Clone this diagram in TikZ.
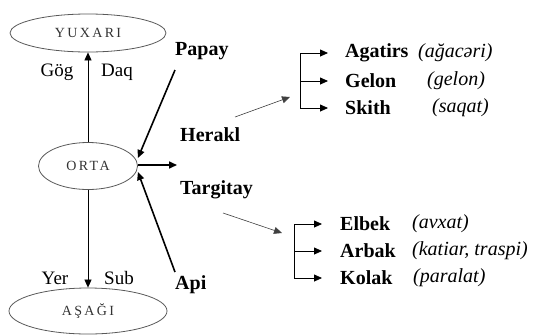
\documentclass[tikz,border=0pt]{standalone}
\usepackage{fontspec}
\setmainfont{Liberation Serif}
\usetikzlibrary{shapes.geometric,arrows.meta}

\begin{document}
\begin{tikzpicture}[x=1pt,y=-1pt,
        tip/.style={-{Triangle[length=8pt,width=7pt]}},
        oval/.style={draw=black!65,ellipse,inner sep=0pt,line width=0.8pt,text=black!80,
            font=\fontsize{14}{14}\selectfont\addfontfeatures{LetterSpace=17}},
        son/.style={font=\fontsize{20}{22}\selectfont\bfseries,inner sep=2pt,anchor=west},
        azname/.style={font=\fontsize{20}{22}\selectfont\itshape,inner sep=2pt,anchor=west},
        word/.style={font=\fontsize{19}{22}\selectfont,inner sep=1pt}]
        \useasboundingbox (0,0) rectangle (537,335);
        % the three levels
        \node [oval,minimum width=156pt,minimum height=38pt] (yuxari) at (88,33) {YUXARI};
        \node [oval,minimum width=99pt,minimum height=47pt] (orta) at (88,166) {ORTA};
        \node [oval,minimum width=158pt,minimum height=46pt] (asagi) at (88,311) {AŞAĞI};
        \node [word] (gog) at (57,72) {Gög};
        \node [word] (daq) at (117,72) {Daq};
        \node [word] (yer) at (55,278) {Yer};
        \node [word] (sub) at (119,278) {Sub};
        \draw [tip,line width=0.7pt] (orta) -- (yuxari);
        \draw [tip,line width=0.7pt] (orta) -- (asagi);
        % the sons
        \node [son] (papay) at (173,51) {Papay};
        \node [son] (herakl) at (178,135) {Herakl};
        \node [son] (targitay) at (178,190) {Targitay};
        \node [son] (api) at (173,285) {Api};
        \coordinate (p0) at (175,70);
        \coordinate (a0) at (175,272);
        \coordinate (o0) at (177,165);
        \draw [tip,line width=1.6pt] (p0) -- ([yshift=8pt]orta.east);
        \draw [tip,line width=1.6pt] (a0) -- ([yshift=-6pt]orta.east);
        \draw [tip,line width=1.6pt] ([yshift=1pt]orta.east) -- (o0);
        % Herakl
        \node [son] (agatirs) at (343,53) {Agatirs};
        \node [azname] (agatirs-az) at (416,53) {(ağacəri)};
        \node [son] (gelon) at (343,81) {Gelon};
        \node [azname] (gelon-az) at (425,81) {(gelon)};
        \node [son] (skith) at (343,108) {Skith};
        \node [azname] (skith-az) at (430,108) {(saqat)};
        \coordinate (h0) at (235,117);
        \coordinate (h1) at (290,97);
        \draw [tip,line width=0.6pt,black!75] (h0) -- (h1);
        \coordinate (hb) at (300,0);
        \draw [line width=0.8pt] (hb |- agatirs.west) -- (hb |- skith.west);
        \foreach \n in {agatirs,gelon,skith}
            \draw [tip,line width=0.8pt,shorten >=15pt] (hb |- \n.west) -- (\n.west);
        % Targitay
        \node [son] (elbek) at (338,224) {Elbek};
        \node [azname] (elbek-az) at (410,224) {(avxat)};
        \node [son] (arbak) at (338,251) {Arbak};
        \node [azname] (arbak-az) at (410,251) {(katiar, traspi)};
        \node [son] (kolak) at (338,278) {Kolak};
        \node [azname] (kolak-az) at (411,278) {(paralat)};
        \coordinate (t0) at (223,213);
        \coordinate (t1) at (282,233);
        \draw [tip,line width=0.6pt,black!75] (t0) -- (t1);
        \coordinate (tb) at (294,0);
        \draw [line width=0.8pt] (tb |- elbek.west) -- (tb |- kolak.west);
        \foreach \n in {elbek,arbak,kolak}
            \draw [tip,line width=0.8pt,shorten >=16pt] (tb |- \n.west) -- (\n.west);
    \end{tikzpicture}
\end{document}
